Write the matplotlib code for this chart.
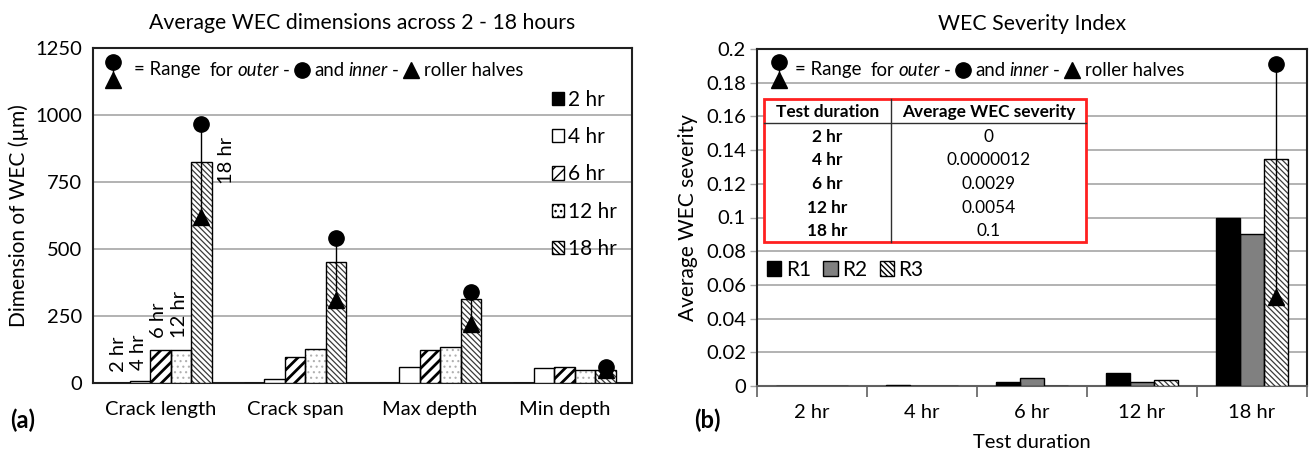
import matplotlib
matplotlib.use('Agg')
import matplotlib.pyplot as plt
import numpy as np
from matplotlib.patches import Rectangle, Patch
from matplotlib.lines import Line2D

plt.rcParams['font.family'] = ['Lato', 'DejaVu Sans']
plt.rcParams['hatch.linewidth'] = 1.0

# ---------------- data (a) ----------------
dims = ['Crack length', 'Crack span', 'Max depth', 'Min depth']
hours = ['2 hr', '4 hr', '6 hr', '12 hr', '18 hr']
dim_2hr = [1, 1, 1, 1]
dim_4hr = [8, 15, 60, 55]
dim_6hr = [125, 98, 125, 58]
dim_12hr = [125, 128, 135, 50]
dim_18hr = [825, 450, 315, 50]
range18_outer = [965, 540, 340, 58]
range18_inner = [620, 310, 220, 48]

# ---------------- data (b) ----------------
durations = ['2 hr', '4 hr', '6 hr', '12 hr', '18 hr']
sev_R1 = [0, 0.0005, 0.0025, 0.008, 0.1]
sev_R2 = [0, 0, 0.0045, 0.0025, 0.09]
sev_R3 = [0, 0, 0, 0.0038, 0.135]
r3_outer_18 = 0.191
r3_inner_18 = 0.053
table_avg = ['0', '0.0000012', '0.0029', '0.0054', '0.1']

W, H = 1314, 453
fig = plt.figure(figsize=(W / 100, H / 100), dpi=100)


def fx(px):
    return px / W


def fy(py):
    return 1 - py / H


axA = fig.add_axes([fx(93), fy(383), (632 - 93) / W, (383 - 48) / H])
axB = fig.add_axes([fx(757), fy(386), (1307 - 757) / W, (386 - 49) / H])

GRID = '#a6a6a6'
FS = 14.5


def hbar(ax, x, h, w, hatch, hatchcolor, face='white', hlw=1.0):
    b1 = ax.bar(x, h, w, color=face, edgecolor=hatchcolor, hatch=hatch,
                linewidth=0, zorder=3)
    for p in b1:
        if hasattr(p, 'set_hatch_linewidth'):
            p.set_hatch_linewidth(hlw)
    ax.bar(x, h, w, fill=False, edgecolor='black', linewidth=1.0, zorder=4)
    return b1

# ---------------- panel (a) ----------------
ax = axA
xa = np.arange(len(dims))
bw = 0.152
series = [dim_2hr, dim_4hr, dim_6hr, dim_12hr, dim_18hr]
styles = [
    dict(face='black', hatch=None, hc='black', hlw=1.0),
    dict(face='white', hatch=None, hc='black', hlw=1.0),
    dict(face='white', hatch='///', hc='black', hlw=2.0),
    dict(face='white', hatch='...', hc='#b0b0b0', hlw=0.8),
    dict(face='white', hatch='\\\\\\\\\\\\', hc='#3a3a3a', hlw=0.9),
]
for i, (vals, st) in enumerate(zip(series, styles)):
    pos = xa + (i - 2) * bw
    hbar(ax, pos, vals, bw, st['hatch'], st['hc'], face=st['face'], hlw=st['hlw'])

pos18 = xa + 2 * bw
for xi, lo, hi in zip(pos18, range18_inner, range18_outer):
    ax.plot([xi, xi], [lo, hi], color='black', lw=1.0, zorder=5)
    ax.plot([xi], [hi], marker='o', ms=11, color='black', zorder=6)
    ax.plot([xi], [lo], marker='^', ms=11, color='black', zorder=6)

for i, lab in enumerate(hours[:4]):
    ax.annotate(lab, (xa[0] + (i - 2) * bw, series[i][0]), xytext=(-1, 8),
                textcoords='offset points', rotation=90, ha='center',
                va='bottom', fontsize=FS, zorder=7)
ax.annotate(hours[4], (xa[0] + 2 * bw, series[4][0]), xytext=(18, 18),
            textcoords='offset points', rotation=90, ha='center', va='top',
            fontsize=FS, zorder=7)

ax.set_xlim(-0.5, len(dims) - 0.5)
ax.set_ylim(0, 1250)
ax.set_yticks([0, 250, 500, 750, 1000, 1250])
ax.set_xticks(xa)
ax.set_xticklabels(dims, fontsize=FS)
ax.tick_params(axis='both', length=0, labelsize=FS)
ax.tick_params(axis='x', pad=13)
ax.tick_params(axis='y', pad=8)
ax.yaxis.grid(True, color=GRID, lw=1.2, zorder=0)
ax.set_axisbelow(True)
for s in ax.spines.values():
    s.set_linewidth(1.5)
    s.set_color('#202020')
ax.set_ylabel('Dimension of WEC (µm)', fontsize=FS + 0.5, labelpad=4)
ax.set_title('Average WEC dimensions across 2 - 18 hours', fontsize=15.3, pad=14)

handles = []
for st in styles:
    handles.append(Patch(facecolor=st['face'], edgecolor='black',
                         hatch=st['hatch'], linewidth=1.0))
ax.legend(handles, hours, loc='upper left', bbox_to_anchor=(0.851, 0.875),
          frameon=False, fontsize=FS + 0.5, handlelength=0.6, handleheight=0.6,
          handletextpad=0.2, labelspacing=0.83, borderpad=0, borderaxespad=0)

# ---------------- panel (b) ----------------
ax = axB
xb = np.arange(len(durations))
bwb = 0.218
sev = [sev_R1, sev_R2, sev_R3]
b_styles = [
    dict(face='black', hatch=None, hc='black', hlw=1.0),
    dict(face='#808080', hatch=None, hc='#808080', hlw=1.0),
    dict(face='white', hatch='\\\\\\\\\\\\', hc='#3a3a3a', hlw=0.9),
]
for i, (vals, st) in enumerate(zip(sev, b_styles)):
    pos = xb + (i - 1) * bwb
    hbar(ax, pos, vals, bwb, st['hatch'], st['hc'], face=st['face'], hlw=st['hlw'])

xr3 = xb[-1] + bwb
ax.plot([xr3, xr3], [r3_inner_18, r3_outer_18], color='black', lw=1.0, zorder=5)
ax.plot([xr3], [r3_outer_18], marker='o', ms=11, color='black', zorder=6)
ax.plot([xr3], [r3_inner_18], marker='^', ms=11, color='black', zorder=6)

ax.set_xlim(-0.5, len(durations) - 0.5)
ax.set_ylim(0, 0.2)
yt = np.round(np.arange(0, 0.2001, 0.02), 2)
ax.set_yticks(yt)
ax.set_yticklabels([f'{v:g}' for v in yt], fontsize=FS)
ax.set_xticks(xb)
ax.set_xticklabels(durations, fontsize=FS)
ax.set_xticks(np.arange(-0.5, len(durations)), minor=True)
ax.tick_params(axis='x', which='major', length=0, pad=13)
ax.tick_params(axis='x', which='minor', length=8, width=1.2, direction='out', color='#606060')
ax.tick_params(axis='y', length=5, width=1.0, color=GRID, pad=3)
ax.yaxis.grid(True, color=GRID, lw=1.2, zorder=0)
ax.set_axisbelow(True)
for s in ax.spines.values():
    s.set_linewidth(1.5)
    s.set_color('#202020')
ax.spines['bottom'].set_color('#606060')
ax.set_ylabel('Average WEC severity', fontsize=FS + 0.5, labelpad=6)
ax.set_xlabel('Test duration', fontsize=FS, labelpad=9)
ax.set_title('WEC Severity Index', fontsize=15.3, pad=14)

bh = [Patch(facecolor=st['face'], edgecolor='black', hatch=st['hatch'], linewidth=1.0)
      for st in b_styles]
ax.legend(bh, ['R1', 'R2', 'R3'], loc='center left', bbox_to_anchor=(0.018, 0.344),
          ncol=3, frameon=False, fontsize=FS + 0.5, handlelength=0.7, handleheight=0.7,
          handletextpad=0.2, columnspacing=0.6, borderpad=0, borderaxespad=0)

# table in panel (b)
tx0, tx1, tdiv = 764, 1086, 891
ty0, ty1, thead = 99, 242, 123
fig.add_artist(Rectangle((fx(tx0), fy(ty1)), (tx1 - tx0) / W, (ty1 - ty0) / H,
                         transform=fig.transFigure, facecolor='white',
                         edgecolor='#ff2020', linewidth=2, zorder=8))
fig.add_artist(Line2D([fx(tdiv), fx(tdiv)], [fy(ty0), fy(ty1)], transform=fig.transFigure,
                      color='#303030', lw=1.0, zorder=9))
fig.add_artist(Line2D([fx(tx0), fx(tx1)], [fy(thead), fy(thead)], transform=fig.transFigure,
                      color='#303030', lw=1.0, zorder=9))
c1 = (tx0 + tdiv) / 2
c2 = (tdiv + tx1) / 2
TFS = 12.4
fig.text(fx(c1), fy(112), 'Test duration', ha='center', va='center', fontsize=TFS,
         fontweight='bold', zorder=10)
fig.text(fx(c2), fy(112), 'Average WEC severity', ha='center', va='center', fontsize=TFS,
         fontweight='bold', zorder=10)
row_y = [137, 160, 184, 208, 231]
for yy, d, v in zip(row_y, durations, table_avg):
    fig.text(fx(c1), fy(yy), d, ha='center', va='center', fontsize=TFS,
             fontweight='bold', zorder=10)
    fig.text(fx(c2), fy(yy), v, ha='center', va='center', fontsize=TFS, zorder=10)

renderer = fig.canvas.get_renderer()


def note(x_sym, y_mid, x_text):
    fig.add_artist(Line2D([fx(x_sym), fx(x_sym)], [fy(y_mid - 8), fy(y_mid + 10)],
                          transform=fig.transFigure, color='black', lw=1.0, zorder=10))
    fig.add_artist(Line2D([fx(x_sym)], [fy(y_mid - 8)], transform=fig.transFigure,
                          marker='o', ms=11, color='black', zorder=11))
    fig.add_artist(Line2D([fx(x_sym)], [fy(y_mid + 10)], transform=fig.transFigure,
                          marker='^', ms=11, color='black', zorder=11))
    pieces = [('t', '= Range', 0), ('g', None, 9), ('t', 'for', 0), ('g', None, 4),
              ('i', 'outer', 0), ('g', None, 4), ('t', '-', 0), ('g', None, 5),
              ('m', 'o', 0), ('g', None, 6), ('t', 'and', 0), ('g', None, 4),
              ('i', 'inner', 0), ('g', None, 4), ('t', '-', 0), ('g', None, 5),
              ('m', '^', 0), ('g', None, 6), ('t', 'roller halves', 0)]
    x = x_text
    for kind, val, gap in pieces:
        if kind == 'g':
            x += gap
        elif kind in ('t', 'i'):
            t = fig.text(fx(x), fy(y_mid), val, ha='left', va='center', fontsize=13.4,
                         style='italic' if kind == 'i' else 'normal', zorder=10)
            x += t.get_window_extent(renderer).width
        else:
            fig.add_artist(Line2D([fx(x + 7)], [fy(y_mid)], transform=fig.transFigure,
                                  marker=val, ms=11, color='black', zorder=11))
            x += 14


note(113, 70, 134)
note(779, 70, 795)

fig.text(fx(10), fy(420), '(a)', fontsize=17, fontweight='bold', va='center', ha='left')
fig.text(fx(694), fy(420), '(b)', fontsize=17, fontweight='bold', va='center', ha='left')

fig.savefig('out.png', dpi=100)
